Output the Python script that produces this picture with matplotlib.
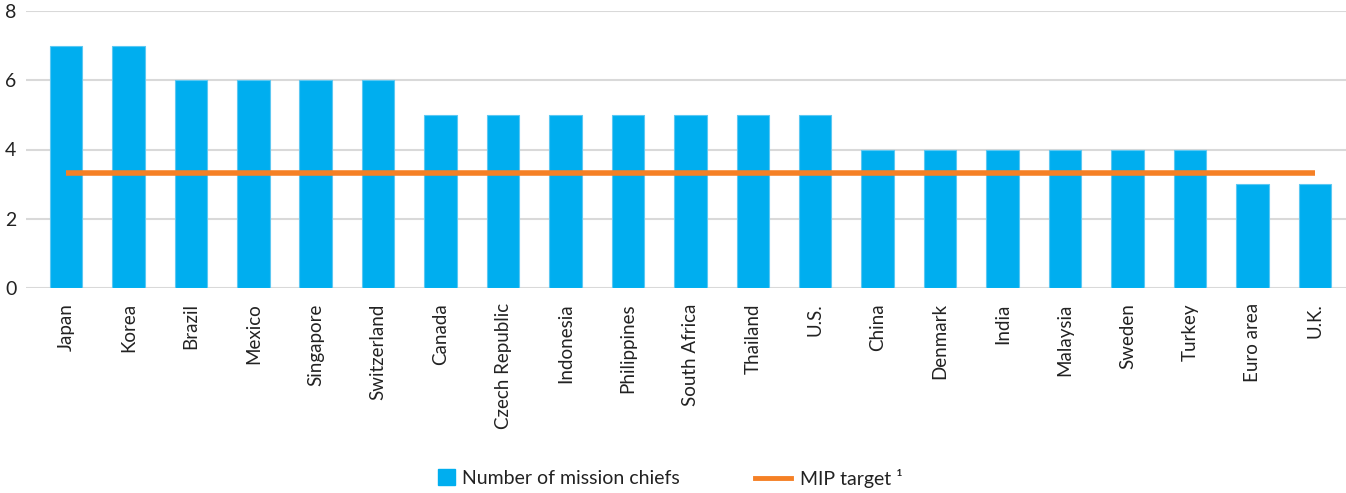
import numpy as np
import matplotlib.pyplot as plt
from matplotlib.patches import Patch
from matplotlib.lines import Line2D

plt.rcParams['font.family'] = ['Lato', 'DejaVu Sans']

countries = ['Japan', 'Korea', 'Brazil', 'Mexico', 'Singapore', 'Switzerland',
             'Canada', 'Czech Republic', 'Indonesia', 'Philippines',
             'South Africa', 'Thailand', 'U.S.', 'China', 'Denmark', 'India',
             'Malaysia', 'Sweden', 'Turkey', 'Euro area', 'U.K.']
mission_chiefs = [7, 7, 6, 6, 6, 6, 5, 5, 5, 5, 5, 5, 5, 4, 4, 4, 4, 4, 4, 3, 3]
mip_target = 3.33

bar_color = '#00AEEF'
line_color = '#F58025'
text_color = '#222222'

fig = plt.figure(figsize=(13.46, 4.93), dpi=100)
ax = fig.add_axes([26 / 1346, 1 - 288 / 493, 1 - 26 / 1346, 277 / 493])

x = np.arange(len(countries))
ax.bar(x, mission_chiefs, width=0.52, color=bar_color,
       edgecolor='#5cc8f2', linewidth=0.8, zorder=2)
ax.plot([x[0], x[-1]], [mip_target, mip_target], color=line_color,
        lw=4, solid_capstyle='butt', zorder=3)

ax.set_ylim(0, 8)
ax.set_yticks([0, 2, 4, 6, 8])
ax.set_xlim(-0.64, len(countries) - 0.5)
ax.set_xticks(x)
ax.set_xticklabels(countries, rotation=90, fontsize=13.5, color=text_color)
ax.tick_params(axis='y', labelsize=14, colors=text_color, length=0, pad=7)
ax.tick_params(axis='x', length=0, pad=11)
ax.yaxis.grid(True, color='#d9d9d9', lw=1.5, zorder=0)
ax.set_axisbelow(True)
for s in ax.spines.values():
    s.set_visible(False)

# two separate legends so the square and the line keep their own widths
leg_y = 1 - 478 / 493
leg1 = fig.legend([Patch(facecolor=bar_color, edgecolor=bar_color)],
                  ['Number of mission chiefs'], loc='center left',
                  bbox_to_anchor=(438 / 1346, leg_y), frameon=False,
                  fontsize=14, handlelength=0.85, handleheight=0.85,
                  handletextpad=0.4, borderpad=0, borderaxespad=0,
                  labelcolor=text_color)
fig.legend([Line2D([], [], color=line_color, lw=3.5)], ['MIP target ¹'],
           loc='center left', bbox_to_anchor=(755 / 1346, leg_y),
           frameon=False, fontsize=14, handlelength=1.85, handletextpad=0.45,
           borderpad=0, borderaxespad=0, labelcolor=text_color)

fig.savefig('out.png', dpi=100)
